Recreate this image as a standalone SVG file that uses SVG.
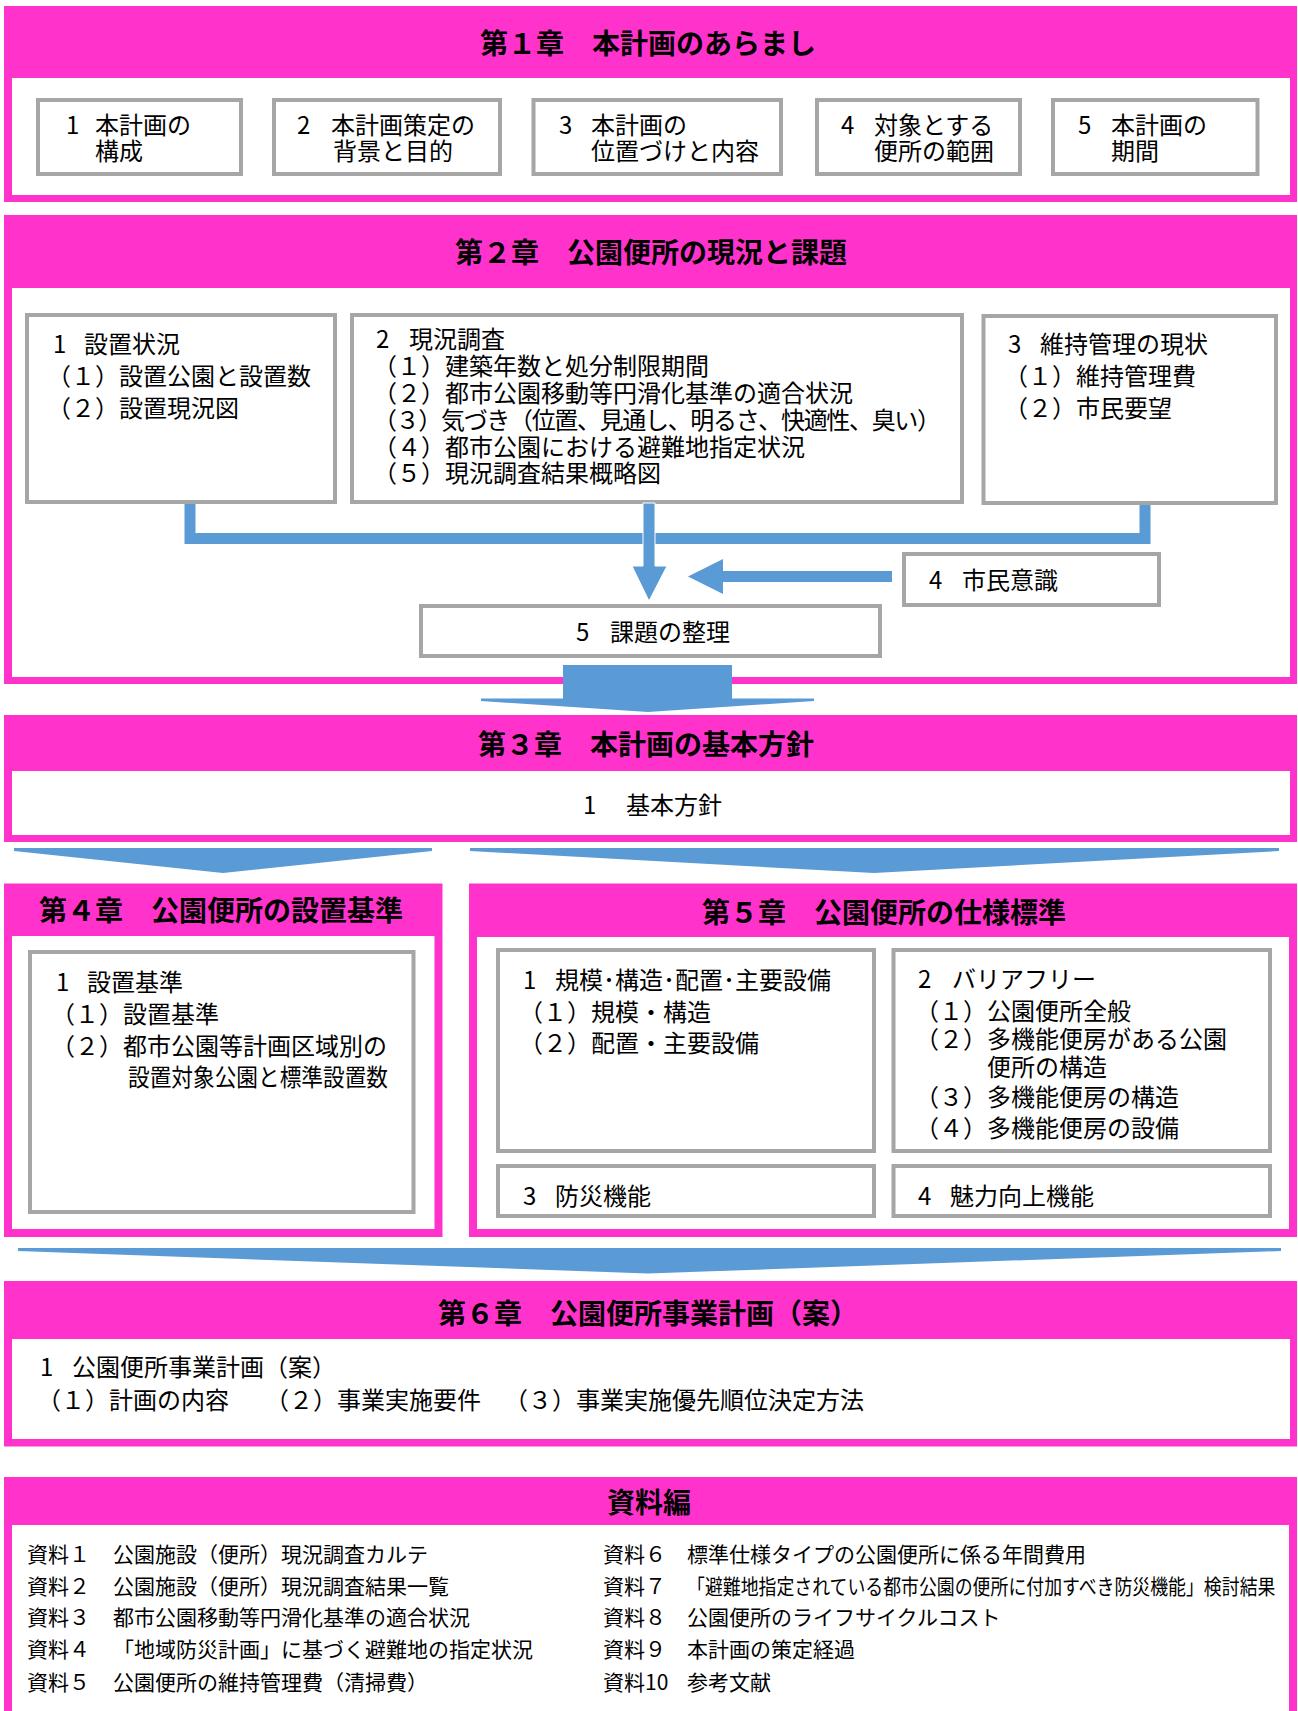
<svg xmlns="http://www.w3.org/2000/svg" width="1298" height="1711" viewBox="0 0 1298 1711">
<style>
.pk{fill:#FF33CC}
.wh{fill:#FFFFFF}
.bx{fill:#FFFFFF;stroke:#A6A6A6;stroke-width:4}
.t{font-family:"Noto Sans CJK JP","Noto Sans",sans-serif;font-size:24px;fill:#000}
.h{font-size:28px;font-weight:700}
.s{font-size:21px}
.bl{fill:#5B9BD5}
.blw{fill:#5B9BD5;stroke:#FFFFFF;stroke-width:1}
.ln{fill:none;stroke:#5B9BD5;stroke-width:11;stroke-linejoin:miter}
</style>
<rect width="1298" height="1711" fill="#FFFFFF"/>

<g id="ch1">
<rect class="pk" x="4" y="6" width="1293" height="196"/>
<rect class="wh" x="12" y="78" width="1278" height="117"/>
<text class="t h" x="480" y="54">第１章　本計画のあらまし</text>
</g>
<g id="ch1-1"><rect class="bx" x="38" y="100" width="203" height="74"/>
<text class="t"><tspan x="66" y="134">1</tspan><tspan x="95" y="134">本計画の</tspan><tspan x="95" y="159.5">構成</tspan></text></g>
<g id="ch1-2"><rect class="bx" x="274" y="100" width="226" height="74"/>
<text class="t"><tspan x="297" y="134">2</tspan><tspan x="331" y="134">本計画策定の</tspan><tspan x="333" y="159.5">背景と目的</tspan></text></g>
<g id="ch1-3"><rect class="bx" x="533.5" y="100" width="247.5" height="74"/>
<text class="t"><tspan x="559" y="134">3</tspan><tspan x="591" y="134">本計画の</tspan><tspan x="591" y="159.5">位置づけと内容</tspan></text></g>
<g id="ch1-4"><rect class="bx" x="817" y="100" width="203" height="74"/>
<text class="t"><tspan x="841" y="134">4</tspan><tspan x="874" y="134">対象とする</tspan><tspan x="874" y="159.5">便所の範囲</tspan></text></g>
<g id="ch1-5"><rect class="bx" x="1053" y="100" width="204.5" height="74"/>
<text class="t"><tspan x="1078" y="134">5</tspan><tspan x="1111" y="134">本計画の</tspan><tspan x="1111" y="159.5">期間</tspan></text></g>

<g id="ch2">
<rect class="pk" x="4" y="215" width="1293" height="469"/>
<rect class="wh" x="12" y="288" width="1278" height="389"/>
<text class="t h" x="455" y="263">第２章　公園便所の現況と課題</text>
</g>
<g id="ch2-1"><rect class="bx" x="27" y="315" width="308" height="187"/>
<text class="t"><tspan x="53" y="353">1</tspan><tspan x="84" y="353">設置状況</tspan><tspan x="47" y="385">（１）設置公園と設置数</tspan><tspan x="47" y="417">（２）設置現況図</tspan></text></g>
<g id="ch2-2"><rect class="bx" x="352" y="315" width="610" height="187"/>
<text class="t"><tspan x="376" y="348">2</tspan><tspan x="409" y="348">現況調査</tspan><tspan x="373" y="375">（１）建築年数と処分制限期間</tspan><tspan x="373" y="401.5">（２）都市公園移動等円滑化基準の適合状況</tspan></text>
<text class="t" x="373" y="429" textLength="568" lengthAdjust="spacing">（３）気づき（位置、見通し、明るさ、快適性、臭い）</text>
<text class="t"><tspan x="373" y="456">（４）都市公園における避難地指定状況</tspan><tspan x="373" y="482">（５）現況調査結果概略図</tspan></text></g>
<g id="ch2-3"><rect class="bx" x="983.5" y="316" width="292.5" height="187"/>
<text class="t"><tspan x="1008" y="353">3</tspan><tspan x="1040" y="353">維持管理の現状</tspan><tspan x="1004" y="385">（１）維持管理費</tspan><tspan x="1004" y="417">（２）市民要望</tspan></text></g>
<g id="ch2-4"><rect class="bx" x="904" y="554" width="255" height="51"/>
<text class="t"><tspan x="929" y="589">4</tspan><tspan x="962" y="589">市民意識</tspan></text></g>
<g id="ch2-5"><rect class="bx" x="421" y="606" width="459" height="50"/>
<text class="t"><tspan x="576" y="641">5</tspan><tspan x="610" y="641">課題の整理</tspan></text></g>

<g id="ch3">
<rect class="pk" x="4" y="715" width="1293" height="127"/>
<rect class="wh" x="12" y="771" width="1278" height="64"/>
<text class="t h" x="478" y="755">第３章　本計画の基本方針</text>
<text class="t"><tspan x="583" y="814">1</tspan><tspan x="626" y="814">基本方針</tspan></text>
</g>

<g id="ch4">
<rect class="pk" x="4" y="883.5" width="438.5" height="353.5"/>
<rect class="wh" x="12" y="936" width="422.5" height="293"/>
<text class="t h" x="39" y="921">第４章　公園便所の設置基準</text>
</g>
<g id="ch4-1"><rect class="bx" x="30" y="952" width="383.5" height="260"/>
<text class="t"><tspan x="56" y="990.5">1</tspan><tspan x="87" y="990.5">設置基準</tspan><tspan x="51" y="1022.5">（１）設置基準</tspan><tspan x="51" y="1054.5">（２）都市公園等計画区域別の</tspan></text>
<text class="t" transform="translate(128,1086) scale(0.903,1)">設置対象公園と標準設置数</text></g>

<g id="ch5">
<rect class="pk" x="469" y="883.5" width="828" height="353.5"/>
<rect class="wh" x="477" y="937" width="812" height="292"/>
<text class="t h" x="702" y="923">第５章　公園便所の仕様標準</text>
</g>
<g id="ch5-1"><rect class="bx" x="498" y="950" width="376" height="201"/>
<text class="t"><tspan x="523" y="988.5">1</tspan><tspan x="555" y="988.5">規模･構造･配置･主要設備</tspan><tspan x="519" y="1020.5">（１）規模・構造</tspan><tspan x="519" y="1052">（２）配置・主要設備</tspan></text></g>
<g id="ch5-2"><rect class="bx" x="893.5" y="950" width="376.5" height="201"/>
<text class="t"><tspan x="918" y="988">2</tspan><tspan x="952" y="988">バリアフリー</tspan><tspan x="915" y="1019.5">（１）公園便所全般</tspan><tspan x="915" y="1048">（２）多機能便房がある公園</tspan><tspan x="987" y="1075.5">便所の構造</tspan><tspan x="915" y="1105.5">（３）多機能便房の構造</tspan><tspan x="915" y="1137">（４）多機能便房の設備</tspan></text></g>
<g id="ch5-3"><rect class="bx" x="498" y="1166" width="376" height="50"/>
<text class="t"><tspan x="523" y="1205">3</tspan><tspan x="555" y="1205">防災機能</tspan></text></g>
<g id="ch5-4"><rect class="bx" x="893.5" y="1166" width="376.5" height="50"/>
<text class="t"><tspan x="918" y="1205">4</tspan><tspan x="950" y="1205">魅力向上機能</tspan></text></g>

<g id="ch6">
<rect class="pk" x="4" y="1281" width="1293" height="165.5"/>
<rect class="wh" x="12" y="1339" width="1278" height="100"/>
<text class="t h" x="438" y="1324">第６章　公園便所事業計画（案）</text>
<text class="t"><tspan x="40" y="1376">1</tspan><tspan x="72" y="1376">公園便所事業計画（案）</tspan><tspan x="37" y="1409">（１）計画の内容</tspan><tspan x="265" y="1409">（２）事業実施要件</tspan><tspan x="504" y="1409">（３）事業実施優先順位決定方法</tspan></text>
</g>

<g id="appendix">
<rect class="pk" x="4" y="1477" width="1293" height="240"/>
<rect class="wh" x="12" y="1525" width="1277" height="200"/>
<text class="t h" x="649" y="1513" text-anchor="middle">資料編</text>
<text class="t s"><tspan x="27" y="1562">資料１</tspan><tspan x="113" y="1562">公園施設（便所）現況調査カルテ</tspan><tspan x="27" y="1594">資料２</tspan><tspan x="113" y="1594">公園施設（便所）現況調査結果一覧</tspan><tspan x="27" y="1625">資料３</tspan><tspan x="113" y="1625">都市公園移動等円滑化基準の適合状況</tspan><tspan x="27" y="1657">資料４</tspan><tspan x="113" y="1657">「地域防災計画」に基づく避難地の指定状況</tspan><tspan x="27" y="1690">資料５</tspan><tspan x="113" y="1690">公園便所の維持管理費（清掃費）</tspan></text>
<text class="t s"><tspan x="603" y="1562">資料６</tspan><tspan x="687" y="1562">標準仕様タイプの公園便所に係る年間費用</tspan><tspan x="603" y="1594">資料７</tspan><tspan x="603" y="1625">資料８</tspan><tspan x="687" y="1625">公園便所のライフサイクルコスト</tspan><tspan x="603" y="1657">資料９</tspan><tspan x="687" y="1657">本計画の策定経過</tspan><tspan x="603" y="1690">資料10</tspan><tspan x="687" y="1690">参考文献</tspan></text>
<text class="t s" transform="translate(687,1594) scale(0.852,1)">「避難地指定されている都市公園の便所に付加すべき防災機能」検討結果</text>
</g>

<g id="connectors">
<path class="ln" d="M190,504 V538.5 H1145 V505"/>
<polygon class="blw" points="643,503 655,503 655,566 667,566 649,601 632,566 643,566"/>
<polygon class="bl" points="892,571 723,571 723,559 688,576.5 723,594 723,582 892,582"/>
<polygon class="bl" points="563,665 732,665 732,698.5 814,698.5 814,701 648,712 481,701 481,698.5 563,698.5"/>
<polygon class="bl" points="14,848 432,848 432,851 223,873 14,851"/>
<polygon class="bl" points="470,848 1279,848 1279,851 874,873 470,851"/>
<polygon class="bl" points="18,1248 1281,1248 1281,1251 648,1273.5 18,1251"/>
</g>
</svg>
